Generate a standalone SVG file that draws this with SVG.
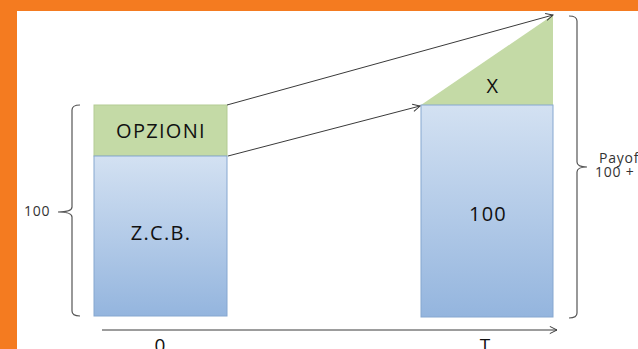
<svg xmlns="http://www.w3.org/2000/svg" width="638" height="349" viewBox="0 0 638 349">
  <defs>
    <style>
      .lbl { font-family: "Open Sans", "Liberation Sans", sans-serif; fill: #111; text-anchor: middle; }
      .big { font-size: 20px; letter-spacing: 1.3px; }
      .small { font-size: 14px; letter-spacing: 0.8px; text-anchor: start; fill: #333; }
      .axis { font-size: 19px; }
      .green { fill: #c4daa6; stroke: #b3cb93; stroke-width: 1; }
      .blue { fill: url(#blueFade); stroke: #86a7d0; stroke-width: 1; }
      .brace { fill: none; stroke: #555; stroke-width: 1.2; }
      .conn { fill: none; stroke: #3a3a3a; stroke-width: 1; marker-end: url(#open); }
    </style>
    <linearGradient id="blueFade" x1="0" y1="0" x2="0" y2="1">
      <stop offset="0" stop-color="#d3e1f2"/>
      <stop offset="1" stop-color="#94b5de"/>
    </linearGradient>
    <marker id="open" viewBox="0 0 10 10" refX="9" refY="5" markerWidth="9" markerHeight="9" markerUnits="userSpaceOnUse" orient="auto">
      <path d="M1,1 L9,5 L1,9" fill="none" stroke="#3a3a3a" stroke-width="1.1"/>
    </marker>
  </defs>

  <!-- frame -->
  <rect x="0" y="0" width="638" height="349" fill="#f47b20"/>
  <rect x="17" y="11" width="621" height="338" fill="#ffffff"/>

  <!-- today: bond + options -->
  <g id="today">
    <rect class="green" x="94" y="105" width="133" height="51"/>
    <rect class="blue" x="94" y="156" width="133" height="160"/>
    <text class="lbl big" x="161" y="138">OPZIONI</text>
    <text class="lbl big" x="161" y="240">Z.C.B.</text>
  </g>

  <g id="price-brace">
    <path class="brace" d="M80,105 Q72,105 72,110 L72,207 Q72,212 58,212 Q72,212 72,217 L72,311 Q72,316 80,316"/>
    <text class="lbl small" x="24" y="216">100</text>
  </g>

  <!-- maturity: principal + payoff -->
  <g id="maturity">
    <polygon points="421,105 553,15 553,105" fill="#c4daa6"/>
    <rect class="blue" x="421" y="105" width="132" height="212"/>
    <text class="lbl big" x="493" y="93">X</text>
    <text class="lbl big" x="488" y="221">100</text>
  </g>

  <g id="payoff-brace">
    <path class="brace" d="M569,16 Q577,16 577,21 L577,162 Q577,167 587,167 Q577,167 577,172 L577,313 Q577,318 569,318"/>
    <text class="lbl small" x="599" y="163">Payoff</text>
    <text class="lbl small" x="595" y="177">100 + X</text>
  </g>

  <!-- connectors -->
  <g id="connectors">
    <line class="conn" x1="227" y1="105" x2="553" y2="15"/>
    <line class="conn" x1="228" y1="156" x2="420" y2="106"/>
    <line class="conn" x1="102" y1="330" x2="557" y2="330"/>
  </g>

  <!-- time axis labels -->
  <g id="axis-labels">
    <text class="lbl axis" x="160" y="352">0</text>
    <text class="lbl axis" x="485" y="352">T</text>
  </g>
</svg>
